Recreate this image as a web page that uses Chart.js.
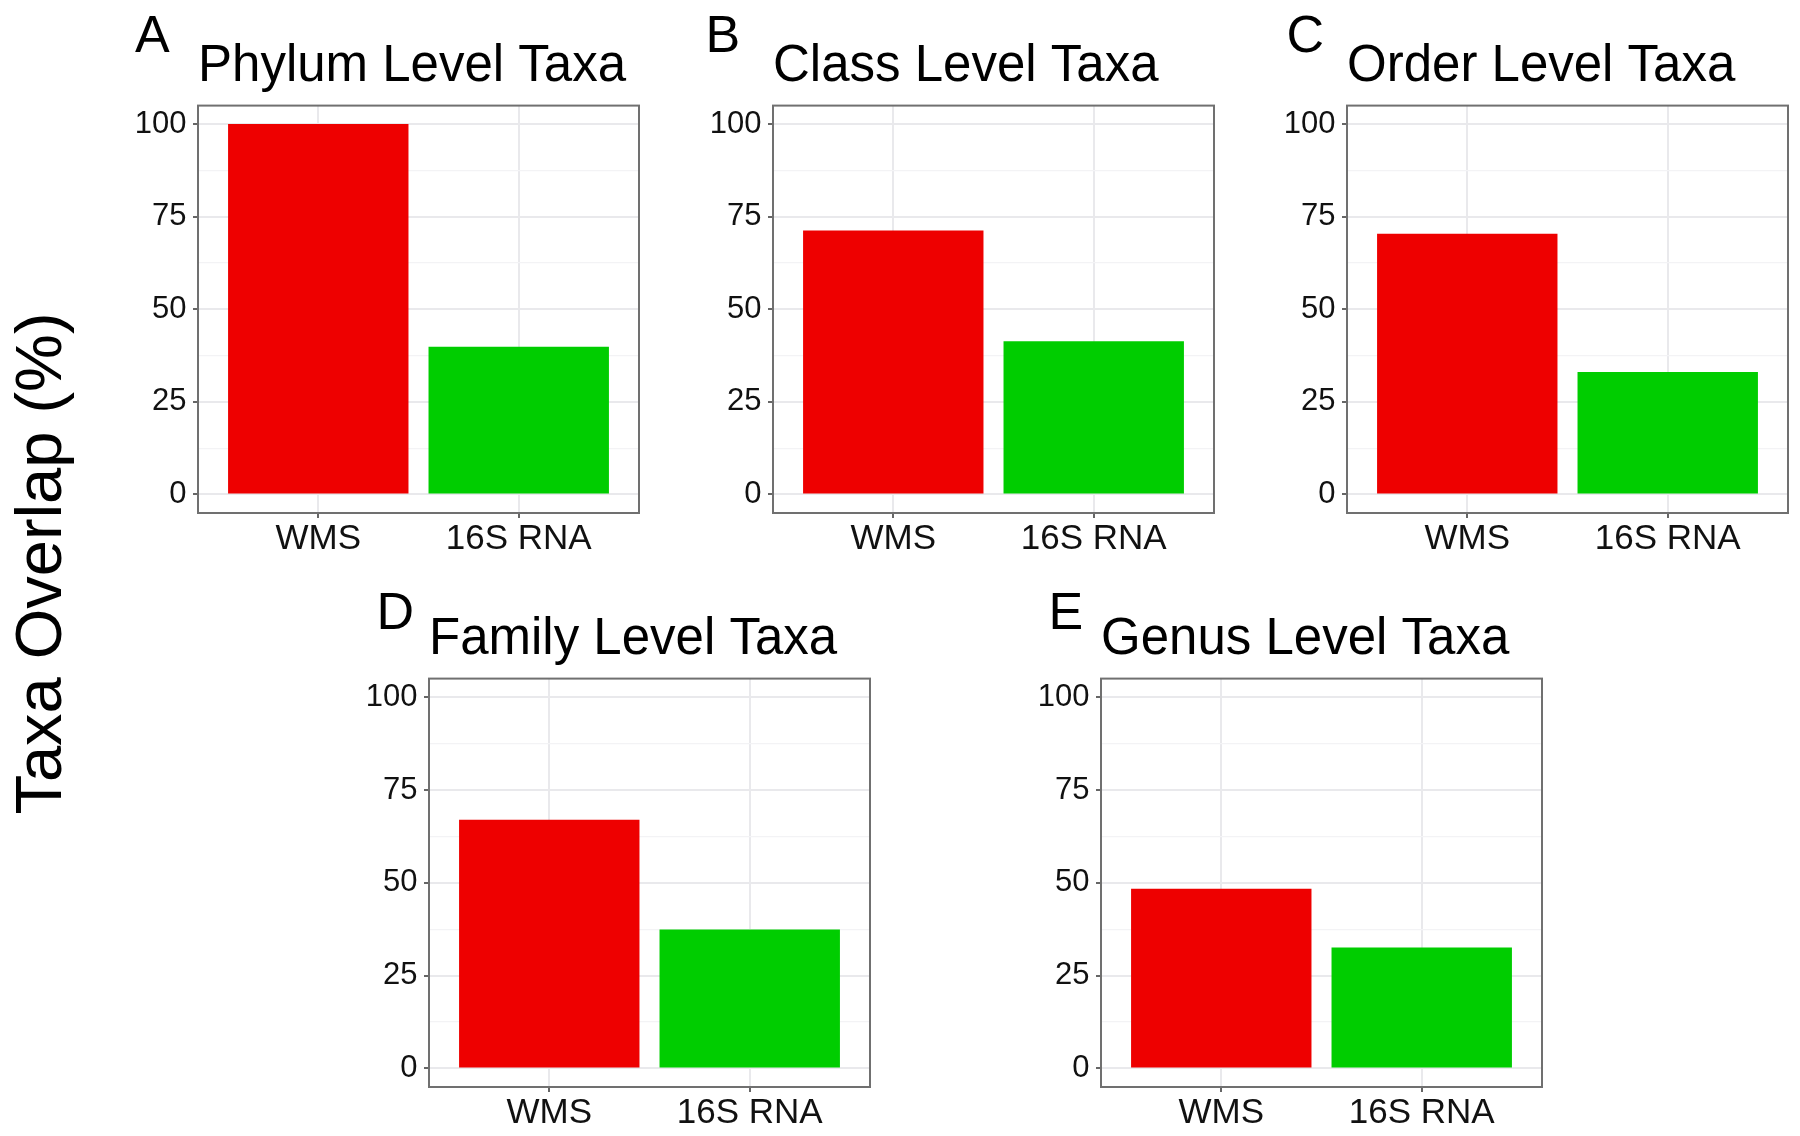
<!DOCTYPE html>
<html>
<head>
<meta charset="utf-8">
<title>Taxa Overlap</title>
<script src="https://cdn.jsdelivr.net/npm/chart.js@4.4.1/dist/chart.umd.min.js"></script>
<style>
  html, body { margin: 0; padding: 0; background: #fff; }
  body { width: 1800px; height: 1136px; overflow: hidden; position: relative; font-family: "Liberation Sans", Arial, sans-serif; }
  .panel { position: absolute; }
  .letter { position: absolute; font-size: 52px; line-height: 52px; color: #000; }
  #ylabel {
    position: absolute; left: -262px; top: 531px;
    width: 600px; height: 65px;
    font-size: 65px; line-height: 65px; text-align: center; white-space: nowrap;
    color: #000; transform: rotate(-90deg);
  }
</style>
</head>
<body>
<div id="ylabel">Taxa Overlap (%)</div>

<script>
// ---- data ----
const categories = ['WMS', '16S RNA'];
const panelLetters = ['A', 'B', 'C', 'D', 'E'];
const panelTitles = ['Phylum Level Taxa', 'Class Level Taxa', 'Order Level Taxa', 'Family Level Taxa', 'Genus Level Taxa'];
const wmsValues = [100, 71.3, 70.4, 67.0, 48.4];
const rnaValues = [39.9, 41.4, 33.1, 37.4, 32.6];
const majorTicks = [0, 25, 50, 75, 100];
const minorTicks = [12.5, 37.5, 62.5, 87.5];

// ---- layout / style ----
const barColors = ['#EE0000', '#00CD00'];
const Y_AXIS_W = 75;
const X_AXIS_H = 48;
const TITLE_H = 105;
// plot box of each panel, in page px
const panelBoxes = [
    { left: 198, top: 105, width: 441, height: 408 },
    { left: 773, top: 105, width: 441, height: 408 },
    { left: 1347, top: 105, width: 441, height: 408 },
    { left: 429, top: 678, width: 441, height: 409 },
    { left: 1101, top: 678, width: 441, height: 409 }
];
const letterSpots = [[135, 8.2], [705.4, 8.2], [1286.4, 8.2], [376.6, 585], [1048.6, 585]];

Chart.defaults.font.family = '"Liberation Sans", Arial, sans-serif';

const panelBorder = {
    id: 'panelBorder',
    afterDraw(chart) {
        const { ctx, chartArea: a } = chart;
        ctx.save();
        ctx.strokeStyle = '#707070';
        ctx.lineWidth = 2;
        ctx.strokeRect(a.left, a.top, a.right - a.left, a.bottom - a.top);
        ctx.restore();
    }
};

panelTitles.forEach((title, i) => {
    const box = panelBoxes[i];

    // panel letter
    const letter = document.createElement('div');
    letter.className = 'letter';
    letter.textContent = panelLetters[i];
    letter.style.left = letterSpots[i][0] + 'px';
    letter.style.top = letterSpots[i][1] + 'px';
    document.body.appendChild(letter);

    // canvas sized so the chart area lands on the plot box
    const canvas = document.createElement('canvas');
    canvas.className = 'panel';
    canvas.width = Y_AXIS_W + box.width + 6;
    canvas.height = TITLE_H + box.height + X_AXIS_H;
    canvas.style.left = (box.left - Y_AXIS_W) + 'px';
    canvas.style.top = (box.top - TITLE_H) + 'px';
    document.body.appendChild(canvas);

    new Chart(canvas, {
        type: 'bar',
        data: {
            datasets: [{
                data: categories.map((c, k) => ({ x: k + 1, y: [wmsValues[i], rnaValues[i]][k] })),
                backgroundColor: barColors,
                borderWidth: 0,
                barPercentage: 0.9,
                categoryPercentage: 1.0
            }]
        },
        options: {
            responsive: false,
            animation: false,
            devicePixelRatio: 1,
            layout: { padding: { left: 0, right: 6, top: 0, bottom: 0 } },
            plugins: {
                legend: { display: false },
                tooltip: { enabled: false },
                title: {
                    display: true,
                    text: title,
                    align: 'start',
                    fullSize: false,
                    color: '#000',
                    font: { size: 51, weight: 'normal', lineHeight: 1.2 },
                    padding: { top: 36.1, bottom: 8.3 }
                }
            },
            scales: {
                x: {
                    type: 'linear',
                    min: 0.4,
                    max: 2.6,
                    offset: false,
                    afterBuildTicks: axis => {
                        axis.ticks = categories.map((c, k) => ({ value: k + 1 }));
                    },
                    afterFit: axis => { axis.height = X_AXIS_H; },
                    ticks: {
                        callback: v => categories[v - 1],
                        color: '#111',
                        font: { size: 35 },
                        padding: 0,
                        maxRotation: 0,
                        autoSkip: false
                    },
                    grid: {
                        color: '#e9e9ec',
                        lineWidth: 2,
                        tickLength: 5,
                        tickColor: '#333',
                        tickWidth: 1.5,
                        offset: false
                    },
                    border: { display: false }
                },
                y: {
                    min: -5,
                    max: 105,
                    afterBuildTicks: axis => {
                        axis.ticks = majorTicks.concat(minorTicks).sort((a, b) => a - b).map(v => ({ value: v }));
                    },
                    afterFit: axis => { axis.width = Y_AXIS_W; },
                    ticks: {
                        callback: v => (majorTicks.includes(v) ? v : ''),
                        color: '#111',
                        font: { size: 31 },
                        padding: 6.5,
                        autoSkip: false
                    },
                    grid: {
                        color: ctx => (majorTicks.includes(ctx.tick.value) ? '#e9e9ec' : '#f3f3f5'),
                        lineWidth: ctx => (majorTicks.includes(ctx.tick.value) ? 2 : 1.2),
                        tickLength: 5,
                        tickColor: ctx => (majorTicks.includes(ctx.tick.value) ? '#333' : 'rgba(0,0,0,0)'),
                        tickWidth: 1.5
                    },
                    border: { display: false }
                }
            }
        },
        plugins: [panelBorder]
    });
});
</script>
</body>
</html>
